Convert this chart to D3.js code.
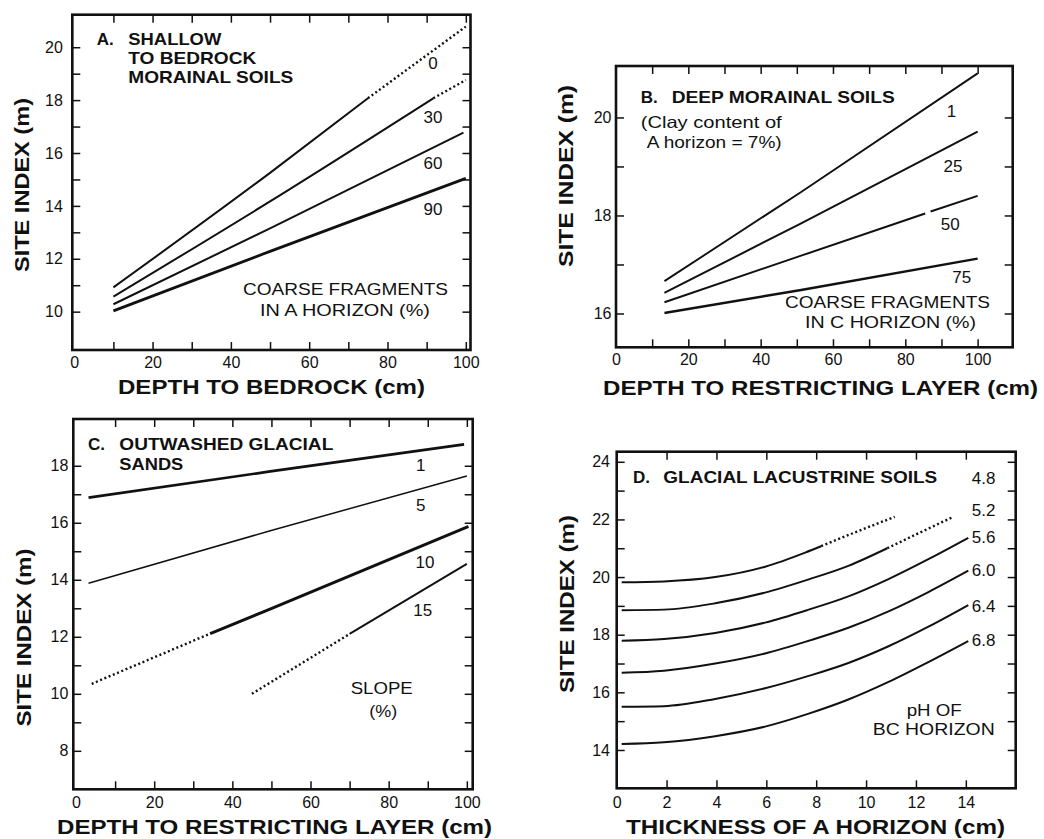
<!DOCTYPE html>
<html><head><meta charset="utf-8">
<script src="https://cdn.jsdelivr.net/npm/d3@7"></script>
<style>
body{margin:0;background:#fff}
svg{display:block;background:#fff}
text{font-family:"Liberation Sans",Arial,Helvetica,sans-serif;fill:#111}
</style>
</head><body>
<svg id="c" width="1044" height="839"></svg>
<script>
// ---------------- DATA ----------------
// Panel A: Shallow to bedrock morainal soils (coarse fragments in A horizon, %)
const aSeries = ["0", "30", "60", "90"];
const aSolid = [
  [[[10, 10.92], [50, 15.25], [75, 18.07]]],
  [[[10, 10.57], [50, 14.17], [91.7, 18.07]]],
  [[[10, 10.28], [50, 13.15], [99.4, 16.77]]],
  [[[10, 10.03], [50, 12.28], [100, 15.04]]]
];
const aDotted = [
  [[75, 18.07], [100, 20.78]],
  [[91.7, 18.07], [100, 18.76]],
  [],
  []
];
const aXTickLabels = [0, 20, 40, 60, 80, 100];
const aYTickLabels = [10, 12, 14, 16, 18, 20];

// Panel B: Deep morainal soils (coarse fragments in C horizon, %)
const bSeries = ["1", "25", "50", "75"];
const bSolid = [
  [[[13.4, 16.66], [51.2, 18.48], [100, 20.90]]],
  [[[13.4, 16.42], [51.2, 17.84], [100, 19.71]]],
  [[[13.4, 16.23], [51.2, 17.18], [85.5, 18.04]], [[87, 18.08], [100, 18.40]]],
  [[[13.4, 16.01], [51.2, 16.48], [100, 17.12]]]
];
const bXTickLabels = [0, 20, 40, 60, 80, 100];
const bYTickLabels = [16, 18, 20];

// Panel C: Outwashed glacial sands (slope, %)
const cSeries = ["1", "5", "10", "15"];
const cSolid = [
  [[[3.2, 16.88], [49.7, 17.80], [99.3, 18.75]]],
  [[[3.2, 13.88], [49.7, 15.72], [100, 17.64]]],
  [[[34.3, 12.11], [48.4, 12.90], [100.4, 15.87]]],
  [[[70, 12.10], [100, 14.56]]]
];
const cDotted = [
  [],
  [],
  [[4.0, 10.35], [34.3, 12.11]],
  [[45, 10.0], [70, 12.10]]
];
const cXTickLabels = [0, 20, 40, 60, 80, 100];
const cYTickLabels = [8, 10, 12, 14, 16, 18];

// Panel D: Glacial lacustrine soils (pH of BC horizon)
const dSeries = ["4.8", "5.2", "5.6", "6.0", "6.4", "6.8"];
const dSolid = [
  [[[0.2, 19.82], [1.9, 19.85], [3.95, 20.0], [5.95, 20.36], [7.56, 20.85], [8.2, 21.07]]],
  [[[0.2, 18.85], [1.9, 18.87], [3.95, 19.09], [5.95, 19.46], [7.7, 19.92], [9.29, 20.39], [10.85, 21.0]]],
  [[[0.2, 17.79], [1.9, 17.85], [3.95, 18.06], [5.95, 18.42], [7.7, 18.87], [9.29, 19.33], [10.9, 19.93], [12.5, 20.62], [14.1, 21.36]]],
  [[[0.2, 16.68], [1.9, 16.75], [3.95, 17.0], [5.95, 17.35], [7.7, 17.79], [9.29, 18.24], [10.9, 18.81], [12.5, 19.48], [14.1, 20.22]]],
  [[[0.2, 15.5], [1.9, 15.52], [3.95, 15.77], [5.95, 16.14], [7.7, 16.57], [9.29, 17.02], [10.9, 17.6], [12.5, 18.28], [14.1, 19.03]]],
  [[[0.2, 14.21], [1.9, 14.27], [3.95, 14.48], [5.95, 14.81], [7.7, 15.26], [9.29, 15.75], [10.9, 16.36], [12.5, 17.05], [14.1, 17.78]]]
];
const dDotted = [
  [[8.2, 21.07], [9.7, 21.6], [11.15, 22.09]],
  [[10.85, 21.0], [12.2, 21.56], [13.5, 22.09]],
  [], [], [], []
];
const dXTickLabels = [0, 2, 4, 6, 8, 10, 12, 14];
const dYTickLabels = [14, 16, 18, 20, 22, 24];

// ---------------- LAYOUT / STYLE ----------------
const svg = d3.select("#c");

function txt(g, x, y, s, o = {}) {
  const t = g.append("text").attr("x", x).attr("y", y).text(s)
    .attr("font-size", o.size || 16)
    .attr("font-weight", o.weight || "normal")
    .attr("text-anchor", o.anchor || "start");
  if (o.len) t.attr("textLength", o.len).attr("lengthAdjust", "spacingAndGlyphs");
  if (o.rotate) t.attr("transform", `rotate(-90,${x},${y})`);
  return t;
}

function panel(cfg) {
  const x = d3.scaleLinear().domain(cfg.xDom).range(cfg.xRange);
  const y = d3.scaleLinear().domain(cfg.yDom).range(cfg.yRange);
  const g = svg.append("g");
  const [xl, xr] = cfg.xRange, [yb, yt] = cfg.yRange;
  const fmt = d3.format("d");

  const tickAxis = (axis, tr) => {
    const a = g.append("g").attr("transform", tr).call(axis);
    a.select(".domain").remove();
    a.selectAll("line").attr("stroke", "#111").attr("stroke-width", 1.5);
  };
  tickAxis(d3.axisBottom(x).tickValues(cfg.xTicks).tickSizeInner(-8).tickSizeOuter(0).tickFormat(""), `translate(0,${yb})`);
  tickAxis(d3.axisTop(x).tickValues(cfg.xTicks).tickSizeInner(-8).tickSizeOuter(0).tickFormat(""), `translate(0,${yt})`);
  tickAxis(d3.axisLeft(y).tickValues(cfg.yTicks).tickSizeInner(-8).tickSizeOuter(0).tickFormat(""), `translate(${xl},0)`);
  tickAxis(d3.axisRight(y).tickValues(cfg.yTicks).tickSizeInner(-8).tickSizeOuter(0).tickFormat(""), `translate(${xr},0)`);

  const bx = g.append("g").attr("transform", `translate(0,${yb})`)
    .call(d3.axisBottom(x).tickValues(cfg.xLabels).tickSize(0).tickPadding(cfg.xPad).tickFormat(fmt));
  bx.select(".domain").remove();
  bx.selectAll("text").attr("font-size", 16).style("fill", "#111");
  const ly = g.append("g").attr("transform", `translate(${xl},0)`)
    .call(d3.axisLeft(y).tickValues(cfg.yLabels).tickSize(0).tickPadding(cfg.yPad).tickFormat(fmt));
  ly.select(".domain").remove();
  ly.selectAll("text").attr("font-size", 16).style("fill", "#111");

  // frame
  g.append("rect").attr("x", xl).attr("y", yt).attr("width", xr - xl).attr("height", yb - yt)
    .attr("fill", "none").attr("stroke", "#111").attr("stroke-width", 2.6);

  const line = d3.line().x(d => x(d[0])).y(d => y(d[1])).curve(d3.curveMonotoneX);
  cfg.solid.forEach((segs, i) => {
    segs.forEach(seg => {
      g.append("path").attr("d", line(seg)).attr("fill", "none").attr("stroke", "#111")
        .attr("stroke-width", cfg.widths[i]).attr("stroke-linecap", "butt");
    });
  });
  (cfg.dotted || []).forEach(seg => {
    if (!seg.length) return;
    g.append("path").attr("d", line(seg)).attr("fill", "none").attr("stroke", "#111")
      .attr("stroke-width", 2.4).attr("stroke-dasharray", "2,2.6");
  });
  cfg.series.forEach((s, i) => {
    const p = cfg.labelPos[i];
    txt(g, x(p[0]), y(p[1]), s, { size: 17, anchor: cfg.labelAnchor || "middle" }).attr("dy", "0.35em");
  });
  return g;
}

// Panel A
const gA = panel({
  xDom: [-0.5, 101.2], xRange: [72.3, 470.5], yDom: [8.55, 21.23], yRange: [350, 14.7],
  xTicks: d3.range(10, 101, 10), yTicks: d3.range(10, 21, 1),
  xLabels: aXTickLabels, yLabels: aYTickLabels, xPad: 6.6, yPad: 9.5,
  series: aSeries, solid: aSolid, dotted: aDotted, widths: [2, 2, 2, 2.7],
  labelPos: [[91.6, 19.4], [91.6, 17.36], [91.6, 15.62], [91.6, 13.88]]
});
txt(gA, 96.7, 45, "A.", { size: 17, weight: "bold" });
txt(gA, 128.3, 45, "SHALLOW", { size: 17, weight: "bold", len: 93 });
txt(gA, 128.3, 64.3, "TO BEDROCK", { size: 17, weight: "bold", len: 128 });
txt(gA, 128.3, 82.7, "MORAINAL SOILS", { size: 17, weight: "bold", len: 165 });
txt(gA, 243, 295, "COARSE FRAGMENTS", { size: 16.5, len: 205 });
txt(gA, 260, 315.5, "IN A HORIZON (%)", { size: 16.5, len: 170 });
txt(gA, 118, 394, "DEPTH TO BEDROCK (cm)", { size: 21, weight: "bold", len: 307 });
txt(gA, 29.2, 185 + 87, "SITE INDEX (m)", { size: 21, weight: "bold", len: 174, rotate: true });

// Panel B
const gB = panel({
  xDom: [0, 109.7], xRange: [616, 1012.7], yDom: [15.31, 21.05], yRange: [347.3, 66],
  xTicks: d3.range(10, 101, 10), yTicks: d3.range(16, 21, 1),
  xLabels: bXTickLabels, yLabels: bYTickLabels, xPad: 6.3, yPad: 4.5,
  series: bSeries, solid: bSolid, widths: [1.9, 2, 2, 2.5],
  labelPos: [[92.8, 20.14], [93.2, 19.01], [92.4, 17.83], [95.6, 16.75]]
});
txt(gB, 640.7, 103.3, "B.", { size: 17, weight: "bold" });
txt(gB, 671.7, 103.3, "DEEP MORAINAL SOILS", { size: 17, weight: "bold", len: 223 });
txt(gB, 640.7, 128.3, "(Clay content of", { size: 16.5, len: 141 });
txt(gB, 646.7, 148.3, "A horizon = 7%)", { size: 16.5, len: 135 });
txt(gB, 785, 308.3, "COARSE FRAGMENTS", { size: 16.5, len: 205 });
txt(gB, 805, 328.3, "IN C HORIZON (%)", { size: 16.5, len: 171 });
txt(gB, 603, 395, "DEPTH TO RESTRICTING LAYER (cm)", { size: 21, weight: "bold", len: 435 });
txt(gB, 572.5, 176 + 91, "SITE INDEX (m)", { size: 21, weight: "bold", len: 182, rotate: true });

// Panel C
const gC = panel({
  xDom: [-0.7, 101.5], xRange: [73.3, 472.7], yDom: [6.65, 19.64], yRange: [789.3, 419],
  xTicks: d3.range(10, 101, 10), yTicks: d3.range(8, 19, 1),
  xLabels: cXTickLabels, yLabels: cYTickLabels, xPad: 7.3, yPad: 5,
  series: cSeries, solid: cSolid, dotted: cDotted, widths: [2.7, 1.5, 3, 1.9],
  labelPos: [[88.2, 18.02], [88.2, 16.62], [89.3, 14.63], [88.7, 12.94]]
});
txt(gC, 88, 450, "C.", { size: 17, weight: "bold" });
txt(gC, 119.3, 450, "OUTWASHED GLACIAL", { size: 17, weight: "bold", len: 214 });
txt(gC, 119.3, 469.5, "SANDS", { size: 17, weight: "bold", len: 64 });
txt(gC, 350.7, 694, "SLOPE", { size: 16.5, len: 62 });
txt(gC, 369.3, 717, "(%)", { size: 16.5, len: 28 });
txt(gC, 57, 834, "DEPTH TO RESTRICTING LAYER (cm)", { size: 21, weight: "bold", len: 435 });
txt(gC, 30.5, 637.5 + 89, "SITE INDEX (m)", { size: 21, weight: "bold", len: 178, rotate: true });

// Panel D
const gD = panel({
  xDom: [0, 16], xRange: [616.7, 1015.7], yDom: [12.67, 24.35], yRange: [788.3, 451.7],
  xTicks: d3.range(2, 15, 2), yTicks: d3.range(14, 25, 1),
  xLabels: dXTickLabels, yLabels: dYTickLabels, xPad: 8.3, yPad: 6.7,
  series: dSeries, solid: dSolid, dotted: dDotted, widths: [2, 2, 2, 2, 2, 2],
  labelAnchor: "start",
  labelPos: [[14.24, 23.42], [14.24, 22.32], [14.24, 21.4], [14.24, 20.24], [14.24, 19.0], [14.24, 17.82]]
});
txt(gD, 633, 483.3, "D.", { size: 17, weight: "bold" });
txt(gD, 663.3, 483.3, "GLACIAL LACUSTRINE SOILS", { size: 17, weight: "bold", len: 274 });
txt(gD, 906.7, 715.5, "pH OF", { size: 16.5, len: 55 });
txt(gD, 872.7, 735, "BC HORIZON", { size: 16.5, len: 122 });
txt(gD, 626, 833.5, "THICKNESS OF A HORIZON (cm)", { size: 21, weight: "bold", len: 379 });
txt(gD, 574.2, 604 + 89, "SITE INDEX (m)", { size: 21, weight: "bold", len: 178, rotate: true });
</script>
</body></html>
